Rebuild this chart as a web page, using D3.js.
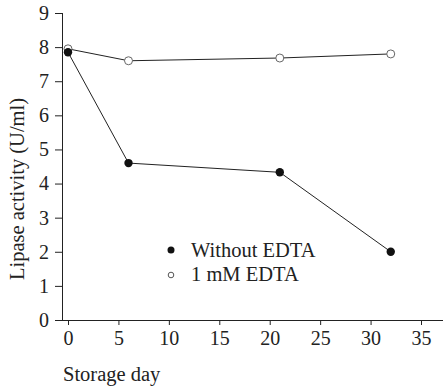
<!DOCTYPE html>
<html>
<head>
<meta charset="utf-8">
<script src="https://cdn.jsdelivr.net/npm/d3@7"></script>
<style>
  body { margin: 0; background: #fff; }
  svg text { fill: #222; }
</style>
</head>
<body>
<script>
// data
var days = [0, 6, 21, 32];
var withoutEDTA = [7.85, 4.6, 4.33, 2.0];
var withEDTA = [7.95, 7.6, 7.68, 7.8];
var xTicks = [0, 5, 10, 15, 20, 25, 30, 35];
var yTicks = [0, 1, 2, 3, 4, 5, 6, 7, 8, 9];
var legendLabels = ["Without EDTA", "1 mM EDTA"];

var width = 444, height = 386;
var serif = "'Liberation Serif', 'DejaVu Serif', serif";

var svg = d3.select("body").append("svg")
    .attr("width", width)
    .attr("height", height);

var x = d3.scaleLinear().domain([0, 35]).range([68, 421]);
var y = d3.scaleLinear().domain([0, 9]).range([320, 13]);

// axes
var yAxis = svg.append("g")
    .attr("transform", "translate(62,0)")
    .call(d3.axisLeft(y).tickValues(yTicks).tickSize(7).tickSizeOuter(0).tickPadding(6));
var xAxis = svg.append("g")
    .attr("transform", "translate(0,320)")
    .call(d3.axisBottom(x).tickValues(xTicks).tickSize(5).tickSizeOuter(0).tickPadding(6));

[xAxis, yAxis].forEach(function (a) {
    a.attr("font-family", serif).attr("font-size", 20);
    a.selectAll("text").attr("fill", "#222");
    a.selectAll("line").attr("stroke", "#222");
    a.select(".domain").attr("stroke", "#222");
});
// x axis line runs from the y axis to the right edge
xAxis.select(".domain").attr("d", "M62,0.5H443");
yAxis.select(".domain").attr("d", "M0.5,13V320");

svg.append("text")
    .attr("transform", "translate(24,189) rotate(-90)")
    .attr("text-anchor", "middle")
    .attr("font-family", serif)
    .attr("font-size", 20.5)
    .text("Lipase activity (U/ml)");

svg.append("text")
    .attr("x", 63)
    .attr("y", 381)
    .attr("font-family", serif)
    .attr("font-size", 20.5)
    .text("Storage day");

var line = d3.line()
    .x(function (d) { return x(d[0]); })
    .y(function (d) { return y(d[1]); });

var s1 = days.map(function (d, i) { return [d, withoutEDTA[i]]; });
var s2 = days.map(function (d, i) { return [d, withEDTA[i]]; });

svg.append("path").datum(s2).attr("d", line)
    .attr("fill", "none").attr("stroke", "#222").attr("stroke-width", 1);
svg.append("path").datum(s1).attr("d", line)
    .attr("fill", "none").attr("stroke", "#222").attr("stroke-width", 1);

svg.selectAll(".open").data(s2).enter().append("circle")
    .attr("class", "open")
    .attr("cx", function (d) { return x(d[0]); })
    .attr("cy", function (d) { return y(d[1]); })
    .attr("r", 4)
    .attr("fill", "#fff").attr("stroke", "#666").attr("stroke-width", 1);

svg.selectAll(".filled").data(s1).enter().append("circle")
    .attr("class", "filled")
    .attr("cx", function (d) { return x(d[0]); })
    .attr("cy", function (d) { return y(d[1]); })
    .attr("r", 4.2)
    .attr("fill", "#111");

// legend
var legend = svg.append("g");
legend.append("circle").attr("cx", 171).attr("cy", 250).attr("r", 3.5).attr("fill", "#111");
legend.append("circle").attr("cx", 171).attr("cy", 275).attr("r", 2.8)
    .attr("fill", "#fff").attr("stroke", "#555").attr("stroke-width", 1);
legend.selectAll("text").data(legendLabels).enter().append("text")
    .attr("x", 191)
    .attr("y", function (d, i) { return 257 + i * 24; })
    .attr("font-family", serif)
    .attr("font-size", 20.5)
    .text(function (d) { return d; });
</script>
</body>
</html>
